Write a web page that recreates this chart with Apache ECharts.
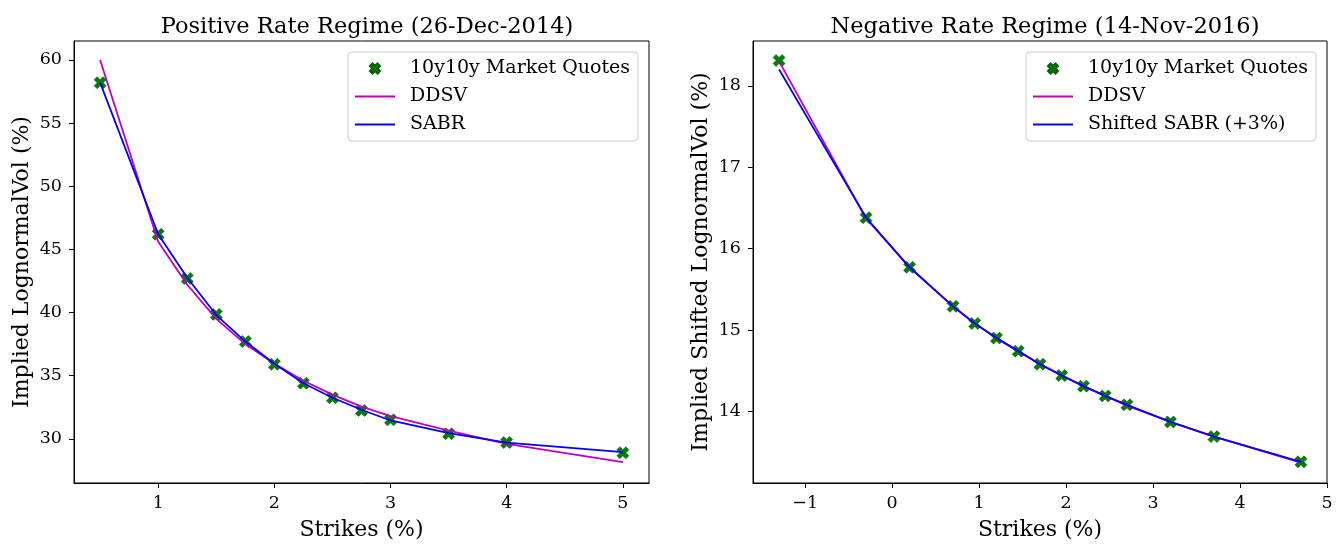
<!DOCTYPE html>
<html>
<head>
<meta charset="utf-8">
<script src="https://cdn.jsdelivr.net/npm/echarts@6/dist/echarts.min.js"></script>
<style>
html,body{margin:0;padding:0;background:#fff;}
#main{width:1343px;height:544px;}
</style>
</head>
<body>
<div id="main"></div>
<script>
// positive rate regime (26-Dec-2014)
var leftStrikes = [0.5, 1, 1.25, 1.5, 1.75, 2, 2.25, 2.5, 2.75, 3, 3.5, 4, 5];
var leftQuotes = [58.2, 46.2, 42.7, 39.85, 37.7, 35.9, 34.4, 33.25, 32.25, 31.5, 30.4, 29.7, 28.9];
var leftDDSV = [60.0, 45.6, 42.2, 39.5, 37.5, 35.95, 34.6, 33.5, 32.55, 31.8, 30.65, 29.6, 28.15];
var leftSABR = [58.2, 46.2, 42.75, 39.8, 37.7, 35.95, 34.4, 33.25, 32.3, 31.45, 30.45, 29.7, 28.95];
var leftXTicks = [1, 2, 3, 4, 5];
var leftYTicks = [30, 35, 40, 45, 50, 55, 60];

// negative rate regime (14-Nov-2016)
var rightStrikes = [-1.3, -0.3, 0.2, 0.7, 0.95, 1.2, 1.45, 1.7, 1.95, 2.2, 2.45, 2.7, 3.2, 3.7, 4.7];
var rightQuotes = [18.31, 16.38, 15.77, 15.29, 15.08, 14.9, 14.74, 14.58, 14.44, 14.31, 14.19, 14.08, 13.87, 13.69, 13.38];
var rightDDSV = [18.3, 16.37, 15.77, 15.29, 15.08, 14.9, 14.74, 14.58, 14.44, 14.31, 14.19, 14.07, 13.87, 13.69, 13.37];
var rightSABR = [18.2, 16.38, 15.77, 15.29, 15.08, 14.9, 14.74, 14.58, 14.44, 14.31, 14.19, 14.08, 13.87, 13.69, 13.38];
var rightXTicks = [-1, 0, 1, 2, 3, 4, 5];
var rightYTicks = [14, 15, 16, 17, 18];

var FONT = 'DejaVu Serif';
var xMark = 'path://M0,3 L3,0 L6,3 L9,0 L12,3 L9,6 L12,9 L9,12 L6,9 L3,12 L0,9 L3,6 Z';
var lineIcon = 'path://M0,0 L40,0 L40,1.8 L0,1.8 Z';

function pairs(xs, ys){
	var out = [];
	for(var i=0;i<xs.length;i++){ out.push([xs[i], ys[i]]); }
	return out;
};

function fmt(v){
	return String(v).replace('-', '\u2212');
};

function makeX(idx, min, max, ticks){
	return {
		type:'value', gridIndex:idx, min:min, max:max,
		name:'Strikes (%)', nameLocation:'middle', nameGap:36,
		nameTextStyle:{fontFamily:FONT, fontSize:22, color:'#000'},
		axisLine:{show:true, onZero:false, lineStyle:{color:'#000', width:1}},
		axisTick:{show:true, length:5, lineStyle:{color:'#000'}, customValues:ticks},
		axisLabel:{fontFamily:FONT, fontSize:17.5, color:'#000', margin:11, customValues:ticks, formatter:fmt},
		splitLine:{show:false}
	};
};

function makeY(idx, min, max, ticks, name){
	return {
		type:'value', gridIndex:idx, min:min, max:max,
		name:name, nameLocation:'middle', nameGap:41,
		nameTextStyle:{fontFamily:FONT, fontSize:22, color:'#000'},
		axisLine:{show:true, onZero:false, lineStyle:{color:'#000', width:1}},
		axisTick:{show:true, length:5, lineStyle:{color:'#000'}, customValues:ticks},
		axisLabel:{fontFamily:FONT, fontSize:17.5, color:'#000', margin:12, customValues:ticks},
		splitLine:{show:false}
	};
};

function makeLegend(left, names){
	var items = [];
	for(var i=0;i<names.length;i++){
		items.push(i==0 ? {name:names[i]} : {name:names[i], icon:lineIcon});
	}
	return {
		orient:'vertical', left:left, top:52,
		data:items,
		itemWidth:40, itemHeight:10, itemGap:9,
		padding:[7, 8, 7, 7],
		backgroundColor:'rgba(255,255,255,0.8)',
		borderColor:'#cccccc', borderWidth:1, borderRadius:4,
		textStyle:{fontFamily:FONT, fontSize:19, color:'#000', padding:[0,0,0,10]}
	};
};

var myChart = echarts.init(document.getElementById('main'), null, {renderer:'canvas'});

var option = {
	animation:false,
	backgroundColor:'#fff',
	title:[
		{text:'Positive Rate Regime (26-Dec-2014)', left:362, top:11, textAlign:'center',
			textStyle:{fontFamily:FONT, fontSize:22.5, fontWeight:'normal', color:'#000'}},
		{text:'Negative Rate Regime (14-Nov-2016)', left:1040, top:11, textAlign:'center',
			textStyle:{fontFamily:FONT, fontSize:22.5, fontWeight:'normal', color:'#000'}}
	],
	legend:[
		makeLegend(348, ['10y10y Market Quotes', 'DDSV', 'SABR']),
		makeLegend(1026, ['10y10y Market Quotes', 'DDSV', 'Shifted SABR (+3%)'])
	],
	grid:[
		{left:74, right:694, top:41, bottom:61, outerBoundsMode:'none', show:true, borderColor:'#000', borderWidth:1},
		{left:753, right:16, top:41, bottom:61, outerBoundsMode:'none', show:true, borderColor:'#000', borderWidth:1}
	],
	xAxis:[
		makeX(0, 0.275, 5.225, leftXTicks),
		makeX(1, -1.6, 5.0, rightXTicks)
	],
	yAxis:[
		makeY(0, 26.5, 61.5, leftYTicks, 'Implied LognormalVol (%)'),
		makeY(1, 13.12, 18.55, rightYTicks, 'Implied Shifted LognormalVol (%)')
	],
	series:[
		{name:'10y10y Market Quotes', type:'scatter', xAxisIndex:0, yAxisIndex:0,
			symbol:xMark, symbolSize:12, itemStyle:{color:'#008000', opacity:1, borderColor:'#006000', borderWidth:0.6},
			data:pairs(leftStrikes, leftQuotes)},
		{name:'DDSV', type:'line', xAxisIndex:0, yAxisIndex:0, symbol:'none',
			lineStyle:{color:'#bf00bf', width:1.8}, itemStyle:{color:'#bf00bf'}, data:pairs(leftStrikes, leftDDSV)},
		{name:'SABR', type:'line', xAxisIndex:0, yAxisIndex:0, symbol:'none',
			lineStyle:{color:'#0000ff', width:1.8}, itemStyle:{color:'#0000ff'}, data:pairs(leftStrikes, leftSABR)},

		{name:'10y10y Market Quotes', type:'scatter', xAxisIndex:1, yAxisIndex:1,
			symbol:xMark, symbolSize:12, itemStyle:{color:'#008000', opacity:1, borderColor:'#006000', borderWidth:0.6},
			data:pairs(rightStrikes, rightQuotes)},
		{name:'DDSV', type:'line', xAxisIndex:1, yAxisIndex:1, symbol:'none',
			lineStyle:{color:'#bf00bf', width:1.8}, itemStyle:{color:'#bf00bf'}, data:pairs(rightStrikes, rightDDSV)},
		{name:'Shifted SABR (+3%)', type:'line', xAxisIndex:1, yAxisIndex:1, symbol:'none',
			lineStyle:{color:'#0000ff', width:1.8}, itemStyle:{color:'#0000ff'}, data:pairs(rightStrikes, rightSABR)}
	]
};

myChart.setOption(option);
</script>
</body>
</html>
